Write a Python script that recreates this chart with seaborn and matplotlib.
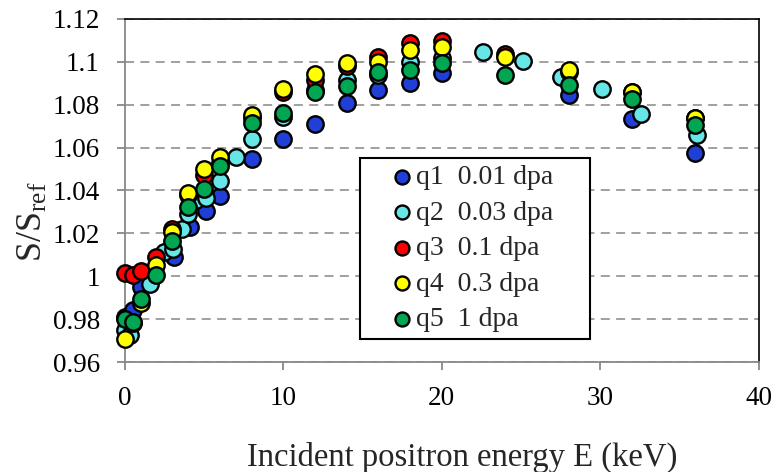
import numpy as np
import pandas as pd
import matplotlib
matplotlib.use("Agg")
import matplotlib.pyplot as plt
import seaborn as sns
from matplotlib.ticker import FuncFormatter
from matplotlib.legend_handler import HandlerPathCollection
from matplotlib.collections import PathCollection

# ---- data ----
q1_E = [0, 0.5, 1, 3.1, 4.1, 5.1, 6, 8, 10, 12, 14, 16, 18, 20, 28, 32, 36]
q1_S = [0.981, 0.9844, 0.995, 1.009, 1.023, 1.0305, 1.0374, 1.0545, 1.064, 1.071, 1.0807, 1.0869, 1.0900, 1.0947, 1.0843, 1.0732, 1.0576]

q2_E = [0, 0.3, 1.6, 2.5, 3.05, 3.6, 4.0, 4.5, 5.1, 6, 7, 8, 10, 12, 14, 16, 18, 20, 22.6, 25.1, 27.5, 30.1, 32.6, 36.1]
q2_S = [0.9748, 0.9724, 0.9962, 1.0114, 1.0129, 1.0222, 1.029, 1.0355, 1.0363, 1.0445, 1.0555, 1.064, 1.0742, 1.087, 1.0916, 1.0939, 1.1001, 1.1017, 1.1047, 1.1005, 1.0931, 1.0874, 1.0757, 1.0659]

q3_E = [0, 0.5, 1, 2, 3, 4, 5, 6, 8, 10, 12, 14, 16, 18, 20, 24, 28, 32, 36]
q3_S = [1.0013, 1.0005, 1.0025, 1.009, 1.0222, 1.038, 1.0472, 1.053, 1.074, 1.086, 1.0916, 1.098, 1.1020, 1.1087, 1.1098, 1.1035, 1.095, 1.086, 1.074]

q4_E = [0, 0.5, 1, 2, 3, 4, 5, 6, 8, 10, 12, 14, 16, 18, 20, 24, 28, 32, 36]
q4_S = [0.9709, 0.978, 0.9874, 1.0051, 1.0207, 1.0389, 1.0499, 1.0555, 1.0752, 1.0872, 1.0943, 1.0994, 1.0999, 1.1056, 1.1069, 1.1020, 1.0963, 1.0857, 1.0737]

q5_E = [0, 0.5, 1, 2, 3, 4, 5, 6, 8, 10, 12, 14, 16, 18, 20, 24, 28, 32, 36]
q5_S = [0.9802, 0.9786, 0.9896, 1.0005, 1.0164, 1.0322, 1.0405, 1.0514, 1.0714, 1.076, 1.0861, 1.0888, 1.0952, 1.0963, 1.0994, 1.0939, 1.0891, 1.0826, 1.0706]

series_labels = ["q1  0.01 dpa", "q2  0.03 dpa", "q3  0.1 dpa", "q4  0.3 dpa", "q5  1 dpa"]
series_colors = ["#1f3fd6", "#66e6e6", "#ff0000", "#ffff00", "#00a651"]

x_ticks = [0, 10, 20, 30, 40]
y_ticks = [0.96, 0.98, 1.00, 1.02, 1.04, 1.06, 1.08, 1.10, 1.12]

frames = []
for lab, E, S in zip(series_labels,
                     [q1_E, q2_E, q3_E, q4_E, q5_E],
                     [q1_S, q2_S, q3_S, q4_S, q5_S]):
    frames.append(pd.DataFrame({"E": E, "S": S, "series": lab}))
df = pd.concat(frames, ignore_index=True)


class RightMarkerHandler(HandlerPathCollection):
    """Place the legend marker near the right end of the handle area."""
    def get_xdata(self, legend, xdescent, ydescent, width, height, fontsize):
        xm = -xdescent + width - 0.3 * fontsize
        return [-xdescent, -xdescent + width], [xm]


# ---- style ----
sns.set_theme(style="white")
plt.rcParams["font.family"] = ["Liberation Serif", "DejaVu Serif"]
plt.rcParams["mathtext.fontset"] = "custom"
plt.rcParams["mathtext.rm"] = "Liberation Serif"
plt.rcParams["mathtext.it"] = "Liberation Serif:italic"

fig = plt.figure(figsize=(7.75, 4.72), dpi=100)
ax = fig.add_axes([0.161, 0.233, 0.818, 0.727])

for lab, col in zip(series_labels, series_colors):
    sub = df[df["series"] == lab]
    sns.scatterplot(data=sub, x="E", y="S", ax=ax, color=col, s=140,
                    edgecolor="black", linewidth=1.7, label=lab, zorder=3,
                    clip_on=False)

ax.set_xlim(0, 40)
ax.set_ylim(0.96, 1.12)
ax.set_xticks(x_ticks)
ax.set_yticks(y_ticks)
ax.yaxis.set_major_formatter(FuncFormatter(lambda v, p: f"{v:g}"))

ax.grid(axis="y", color="#999999", linestyle=(0, (5, 3.5)), linewidth=1.3)
ax.grid(axis="x", visible=False)
ax.set_axisbelow(True)

for side in ["left", "bottom"]:
    ax.spines[side].set_color("#888888")
    ax.spines[side].set_linewidth(1.3)
for side in ["top", "right"]:
    ax.spines[side].set_color("black")
    ax.spines[side].set_linewidth(1.2)

ax.tick_params(axis="both", which="major", direction="out", length=6,
               width=1.3, color="#888888", labelsize=19.5, labelcolor="black",
               left=True, bottom=True)
ax.tick_params(axis="y", pad=12)
ax.tick_params(axis="x", pad=11)

ax.set_xlabel("Incident positron energy E (keV)", fontsize=23.5)
ax.xaxis.set_label_coords(0.532, -0.232)
ax.set_ylabel(r"S/S$_{\mathrm{ref}}$", fontsize=26)
ax.yaxis.set_label_coords(-0.118, 0.41)

leg = ax.legend(loc="upper left", bbox_to_anchor=(0.371, 0.0, 0.363, 0.595),
                mode="expand",
                fontsize=20, frameon=True, fancybox=False, edgecolor="black",
                handlelength=1.55, handletextpad=0.2, borderpad=0.25,
                labelspacing=0.36, borderaxespad=0, markerscale=0.85,
                handler_map={PathCollection: RightMarkerHandler()})
leg.get_frame().set_linewidth(1.5)
leg.get_frame().set_alpha(1)

fig.savefig("out.png", dpi=100)
